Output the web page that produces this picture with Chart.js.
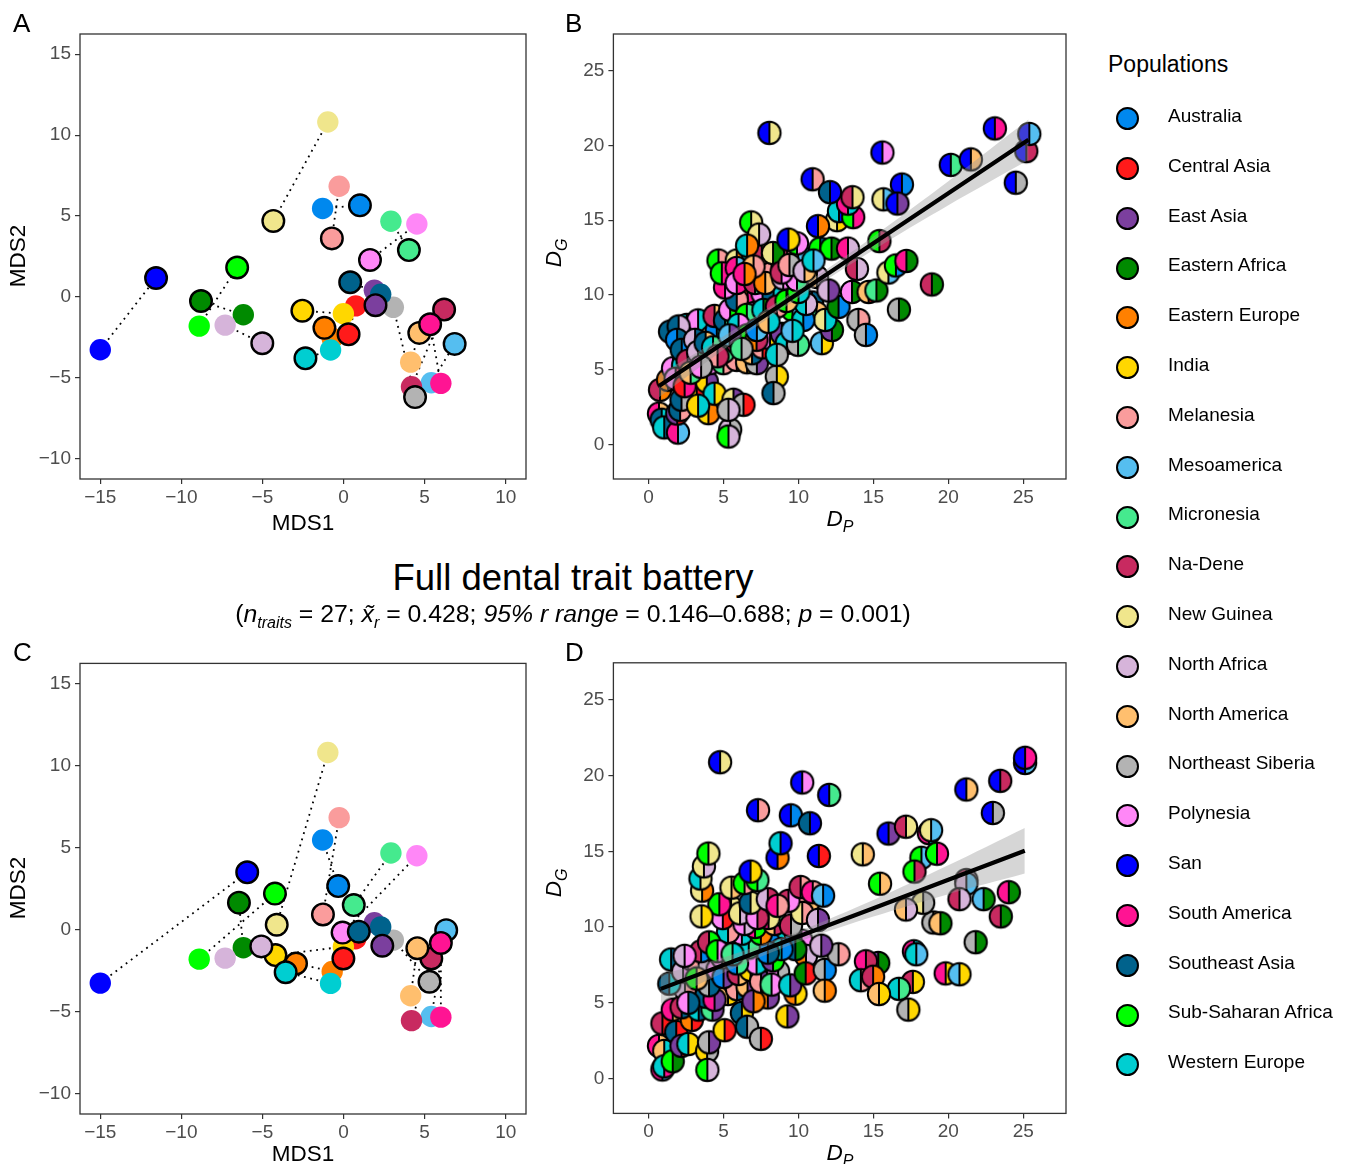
<!DOCTYPE html>
<html>
<head>
<meta charset="utf-8">
<script src="https://cdn.jsdelivr.net/npm/chart.js@4.4.1/dist/chart.umd.min.js"></script>
<style>
  body { margin: 0; background: #fff; }
  #page { position: relative; width: 1349px; height: 1164px; background: #fff; font-family: "Liberation Sans", Arial, sans-serif; color: #000; }
  canvas { position: absolute; }
  .txt { position: absolute; white-space: nowrap; }
  .rot { transform: translate(-50%, -50%) rotate(-90deg); }
  .lg-dot { position: absolute; width: 19px; height: 19px; border: 2px solid #000; border-radius: 50%; }
</style>
</head>
<body>
<div id="page">
  <canvas id="chartA" width="540" height="540" style="left:0;top:0"></canvas>
  <canvas id="chartB" width="540" height="540" style="left:540px;top:0"></canvas>
  <canvas id="chartC" width="540" height="534" style="left:0;top:630px"></canvas>
  <canvas id="chartD" width="540" height="534" style="left:540px;top:630px"></canvas>

  <div class="txt" style="left:13px;top:8px;font-size:26px">A</div>
  <div class="txt" style="left:565px;top:8px;font-size:26px">B</div>
  <div class="txt" style="left:13px;top:637px;font-size:26px">C</div>
  <div class="txt" style="left:565px;top:637px;font-size:26px">D</div>

  <div class="txt" style="left:0;width:1146px;top:560px;text-align:center;font-size:36.5px;line-height:36px">Full dental trait battery</div>
  <div class="txt" style="left:0;width:1146px;top:602px;text-align:center;font-size:24.8px;line-height:24px">(<i>n<sub style="font-size:16px">traits</sub></i> = 27; <i>x&#771;<sub style="font-size:16px">r</sub></i> = 0.428; <i>95% r range</i> = 0.146&ndash;0.688; <i>p</i> = 0.001)</div>

  <div class="txt" style="left:203px;width:200px;top:512px;text-align:center;font-size:22.5px;line-height:22.5px">MDS1</div>
  <div class="txt rot" style="left:18px;top:256px;font-size:22.5px;line-height:22.5px">MDS2</div>
  <div class="txt" style="left:203px;width:200px;top:1143px;text-align:center;font-size:22.5px;line-height:22.5px">MDS1</div>
  <div class="txt rot" style="left:18px;top:888px;font-size:22.5px;line-height:22.5px">MDS2</div>

  <div class="txt" style="left:740px;width:200px;top:508px;text-align:center;font-size:22.5px;line-height:22.5px"><i>D<sub style="font-size:16px">P</sub></i></div>
  <div class="txt rot" style="left:558px;top:253px;font-size:22.5px;line-height:22.5px"><i>D<sub style="font-size:16px">G</sub></i></div>
  <div class="txt" style="left:740px;width:200px;top:1142px;text-align:center;font-size:22.5px;line-height:22.5px"><i>D<sub style="font-size:16px">P</sub></i></div>
  <div class="txt rot" style="left:558px;top:883px;font-size:22.5px;line-height:22.5px"><i>D<sub style="font-size:16px">G</sub></i></div>

  <div class="txt" style="left:1108px;top:53px;font-size:23px;line-height:23px">Populations</div>
  <div id="legend"></div>
</div>

<script>
// populations and colours
const popNames = ['Australia', 'Central Asia', 'East Asia', 'Eastern Africa', 'Eastern Europe', 'India',
  'Melanesia', 'Mesoamerica', 'Micronesia', 'Na-Dene', 'New Guinea', 'North Africa', 'North America',
  'Northeast Siberia', 'Polynesia', 'San', 'South America', 'Southeast Asia', 'Sub-Saharan Africa', 'Western Europe'];
const popColors = ['#0088EE', '#FF1A1A', '#7B3F9E', '#008A00', '#FF8000', '#FFD700',
  '#FA9C9C', '#55BEF0', '#45EA8E', '#C82A60', '#F0E68C', '#D6B4DA', '#FFBF6E',
  '#B3B3B3', '#FF87F7', '#0000FF', '#FF1493', '#00628C', '#00FF00', '#00CED1'];

// genetic MDS (same in A and C)
const genX = [-1.29, 0.75, 1.90, -6.18, -0.70, -0.01, -0.27, 5.41, 2.92, 4.19, -0.97, -7.30, 4.14, 3.07, 4.52, -15.0, 6.00, 2.29, -8.90, -0.80];
const genY = [5.47, -0.55, 0.42, -1.10, -2.55, -1.04, 6.84, -5.30, 4.68, -5.55, 10.81, -1.74, -4.03, -0.64, 4.51, -3.26, -5.34, 0.17, -1.80, -3.28];
// phenotypic MDS, panel A
const phenAX = [1.01, 0.31, 1.97, -8.79, -1.18, -2.54, -0.72, 6.85, 4.03, 6.20, -4.33, -5.01, 4.67, 4.41, 1.63, -11.56, 5.34, 0.41, -6.56, -2.35];
const phenAY = [5.66, -2.31, -0.51, -0.25, -1.91, -0.85, 3.62, -2.90, 2.90, -0.78, 4.70, -2.86, -2.22, -6.19, 2.29, 1.17, -1.69, 0.91, 1.82, -3.79];
// phenotypic MDS, panel C
const phenCX = [-0.33, -0.01, 2.39, -6.45, -2.93, -4.20, -1.27, 6.33, 0.63, 5.41, -4.12, -5.07, 4.55, 5.30, -0.06, -5.94, 6.00, 0.94, -4.23, -3.57];
const phenCY = [2.66, -1.76, -0.98, 1.65, -2.07, -1.55, 0.93, -0.03, 1.50, -1.76, 0.30, -1.02, -1.13, -3.18, -0.18, 3.50, -0.81, -0.12, 2.20, -2.60];

const mdsTicksX = [-15, -10, -5, 0, 5, 10];
const mdsTicksY = [-10, -5, 0, 5, 10, 15];
const distTicks = [0, 5, 10, 15, 20, 25];

// pairwise distances: [D_P, D_G, left population, right population]
const pairsB = [
  [0.76, 3.66, 9, 4], [1.3, 4.33, 4, 9], [1.63, 5.1, 14, 6], [0.69, 2.07, 16, 12], [0.87, 1.66, 17, 19],
  [1.04, 1.15, 19, 17], [1.96, 0.8, 16, 7], [1.91, 2.07, 2, 1], [2.1, 2.32, 17, 6], [2.97, 3.21, 19, 1],
  [3.21, 3.44, 5, 1], [3.99, 2.1, 5, 4], [3.88, 4.21, 5, 2], [2.19, 3.0, 17, 13], [4.1, 5.44, 12, 14],
  [3.0, 5.6, 4, 13], [2.3, 5.3, 19, 14], [1.8, 4.4, 14, 9], [2.4, 3.9, 1, 16], [4.4, 3.4, 19, 5], [3.3, 2.6, 5, 19],
  [4.99, 5.44, 8, 6], [5.88, 5.66, 6, 12], [6.57, 5.5, 12, 5], [7.22, 5.44, 13, 2], [5.44, 1.0, 11, 13],
  [5.33, 0.54, 18, 11], [5.66, 3.0, 10, 2], [6.33, 2.66, 13, 1], [5.33, 2.32, 13, 11], [8.55, 4.55, 13, 5],
  [8.33, 3.44, 17, 13], [1.43, 7.55, 17, 6], [2.54, 8.0, 19, 11], [3.43, 7.8, 11, 17], [3.97, 8.0, 9, 11],
  [3.3, 8.3, 14, 19], [2.0, 7.9, 17, 11], [1.9, 7.0, 0, 17], [4.2, 7.2, 12, 2], [5.0, 6.2, 16, 8],
  [5.9, 6.8, 9, 0], [6.9, 6.1, 12, 17], [7.6, 6.5, 6, 1], [8.1, 7.1, 14, 5], [8.9, 7.4, 2, 19],
  [2.21, 6.33, 17, 0], [3.1, 7.0, 11, 17], [4.55, 7.66, 0, 19], [2.6, 5.6, 9, 14], [3.3, 6.2, 11, 8],
  [3.8, 6.8, 17, 12], [4.3, 6.5, 19, 8], [4.6, 5.9, 6, 9], [2.8, 4.8, 12, 8], [3.5, 5.2, 14, 13],
  [4.4, 8.6, 9, 12], [5.1, 8.3, 17, 8], [6.3, 9.2, 16, 14], [7.1, 8.5, 0, 12], [8.9, 10.3, 19, 8],
  [9.6, 9.0, 18, 7], [10.9, 9.5, 0, 17], [11.2, 8.8, 8, 12], [6.6, 10.2, 4, 16], [7.6, 10.1, 14, 17],
  [5.44, 9.0, 14, 18], [5.88, 9.67, 17, 6], [6.55, 8.67, 18, 8], [7.66, 9.0, 19, 3], [8.55, 9.22, 9, 6],
  [6.0, 8.0, 19, 14], [6.6, 7.3, 18, 12], [7.2, 7.0, 4, 9], [7.22, 7.66, 0, 7], [8.0, 8.2, 12, 19],
  [5.4, 7.3, 7, 2], [6.2, 6.4, 8, 13], [9.22, 6.8, 19, 1], [9.97, 6.67, 13, 8], [11.56, 6.78, 7, 5],
  [12.23, 7.66, 2, 3], [11.78, 8.33, 10, 19], [10.32, 8.33, 19, 0], [8.55, 6.0, 19, 13], [9.6, 7.6, 7, 19],
  [10.5, 9.4, 19, 11], [9.2, 9.6, 18, 12], [10.0, 10.2, 18, 19], [12.67, 9.2, 3, 0], [14.0, 8.33, 13, 6],
  [14.5, 7.33, 13, 0], [16.7, 9.02, 13, 3], [4.66, 12.3, 18, 6], [5.88, 12.3, 10, 4], [6.98, 12.67, 19, 4],
  [8.2, 11.8, 6, 11], [9.4, 12.4, 9, 8], [5.1, 10.5, 16, 14], [6.0, 11.1, 12, 4],
  [7.55, 12.8, 9, 10], [8.3, 12.8, 10, 3], [9.98, 12.8, 6, 7], [9.9, 13.45, 18, 14], [11.45, 13.1, 18, 17],
  [12.2, 13.1, 18, 3], [13.3, 13.1, 16, 11], [12.57, 15.0, 10, 5], [11.3, 14.6, 15, 4], [12.7, 15.6, 19, 15],
  [13.65, 15.2, 18, 16], [4.88, 11.45, 18, 16], [5.88, 11.8, 16, 7], [5.88, 10.8, 14, 16], [7.1, 10.8, 9, 8],
  [7.78, 10.8, 4, 12], [8.98, 11.1, 11, 14], [9.9, 11.0, 14, 8], [11.23, 11.2, 12, 11], [12.0, 10.3, 11, 2],
  [13.57, 10.2, 14, 3], [14.68, 10.2, 12, 1], [15.2, 10.3, 8, 3], [6.84, 14.85, 18, 10], [7.37, 14.04, 10, 11],
  [6.57, 13.3, 19, 4], [9.33, 13.7, 15, 5], [8.87, 11.5, 9, 14], [9.4, 12.0, 6, 13], [10.4, 11.6, 11, 12],
  [11.0, 12.3, 19, 7], [7.0, 11.9, 12, 6], [6.4, 11.4, 16, 4], [15.4, 13.6, 18, 9], [13.9, 11.74, 9, 11],
  [16.0, 11.5, 10, 7], [16.5, 11.97, 18, 0], [17.2, 12.27, 16, 3], [18.9, 10.7, 9, 3], [13.3, 16.1, 16, 19],
  [13.6, 16.53, 9, 10], [15.67, 16.39, 10, 7], [8.06, 20.83, 15, 10], [15.6, 19.52, 15, 14], [10.94, 17.73, 15, 6],
  [12.1, 16.87, 17, 15], [16.9, 17.38, 15, 0], [16.6, 16.11, 15, 2], [20.16, 18.69, 15, 8], [21.5, 19.06, 15, 12],
  [23.1, 21.13, 15, 16], [25.2, 19.61, 15, 9], [25.4, 20.76, 15, 7], [24.5, 17.5, 15, 13]
];
const pairsD = [
  [0.69, 2.16, 16, 12], [1.04, 1.82, 12, 19], [0.92, 0.6, 16, 7], [1.04, 0.8, 19, 16], [1.61, 1.14, 18, 3],
  [0.92, 3.64, 9, 1], [1.84, 3.07, 17, 1], [2.19, 2.16, 2, 1], [2.65, 2.28, 19, 5], [2.88, 3.87, 4, 1],
  [1.61, 4.55, 16, 12], [2.2, 4.7, 9, 17], [3.34, 4.55, 19, 17], [4.26, 4.55, 8, 2], [3.9, 1.8, 5, 13],
  [4.03, 2.39, 13, 2], [3.92, 0.57, 18, 11], [5.07, 3.19, 5, 1], [6.22, 4.33, 17, 5], [6.57, 3.42, 17, 13],
  [7.49, 2.62, 13, 1], [9.26, 4.1, 5, 2], [7.95, 5.35, 4, 2], [5.3, 5.58, 12, 5], [5.65, 6.38, 2, 5],
  [2.1, 6.6, 0, 11], [3.0, 6.1, 12, 8], [3.8, 5.4, 17, 4], [4.4, 5.2, 16, 2], [5.9, 5.9, 6, 17],
  [6.6, 6.1, 12, 2], [7.0, 5.1, 2, 4], [9.8, 5.6, 4, 5],
  [4.03, 6.15, 13, 17], [2.42, 5.92, 11, 6], [2.65, 5.0, 14, 17], [1.38, 6.26, 17, 19], [1.5, 7.86, 19, 17],
  [2.3, 7.06, 11, 14], [2.88, 7.86, 14, 11], [3.34, 7.51, 6, 11], [3.2, 6.6, 18, 12], [4.6, 7.2, 14, 13],
  [5.0, 6.7, 0, 2], [6.0, 6.9, 9, 12], [6.8, 7.17, 5, 13], [7.5, 6.4, 6, 2], [8.64, 7.06, 14, 13],
  [7.2, 7.6, 14, 19], [8.3, 7.8, 2, 18], [9.1, 9.3, 19, 0], [10.2, 9.1, 17, 14], [10.5, 8.1, 4, 11],
  [8.0, 9.0, 18, 0], [6.6, 9.1, 8, 14], [5.7, 9.0, 19, 9], [4.9, 8.0, 14, 12], [3.5, 8.4, 9, 0],
  [2.4, 8.1, 11, 14], [5.9, 7.6, 0, 8],
  [8.2, 6.2, 8, 14], [9.45, 6.15, 19, 2], [10.48, 6.94, 3, 1], [11.75, 7.17, 13, 0], [11.75, 5.8, 12, 4],
  [12.67, 8.2, 13, 6], [11.52, 8.77, 11, 2], [9.79, 8.54, 17, 3], [8.87, 8.54, 19, 0], [7.95, 8.31, 0, 17],
  [6.68, 8.65, 19, 8], [6.22, 9.56, 14, 19], [5.3, 9.68, 19, 6], [4.03, 8.99, 9, 18], [4.6, 8.4, 18, 14],
  [5.6, 8.2, 8, 19], [7.49, 9.56, 18, 4], [7.1, 10.0, 16, 18], [8.4, 10.2, 12, 9], [9.1, 10.7, 8, 11],
  [5.5, 11.3, 12, 10], [6.4, 10.2, 14, 11], [8.0, 10.6, 16, 10], [9.5, 10.1, 9, 13], [10.7, 11.7, 6, 12],
  [10.25, 10.93, 10, 6], [11.3, 10.47, 11, 2], [4.95, 10.59, 14, 1], [6.1, 10.9, 10, 11], [7.26, 10.6, 14, 9],
  [6.8, 11.6, 17, 10], [7.95, 11.84, 11, 9], [9.33, 11.73, 9, 14], [8.6, 11.4, 16, 6], [10.14, 12.64, 9, 6],
  [10.95, 12.3, 16, 6], [11.64, 12.07, 7, 0], [4.72, 11.5, 18, 16], [3.53, 10.7, 10, 5], [3.57, 12.4, 10, 4],
  [3.46, 13.2, 19, 10], [3.69, 14.0, 10, 11], [3.99, 14.85, 18, 10], [5.53, 12.6, 10, 12], [6.4, 12.9, 18, 6],
  [7.26, 13.09, 18, 8], [6.8, 13.66, 15, 5], [8.6, 14.57, 15, 4], [8.8, 15.53, 19, 15], [11.36, 14.69, 15, 1],
  [7.3, 17.71, 15, 6], [9.49, 17.37, 15, 0], [10.76, 16.85, 17, 15], [10.25, 19.54, 15, 14], [12.05, 18.72, 15, 8],
  [4.77, 20.88, 15, 10], [14.29, 14.8, 10, 12], [15.44, 12.86, 18, 12], [16.01, 16.17, 15, 2], [17.17, 16.62, 9, 10],
  [18.7, 16.2, 16, 19], [18.85, 16.39, 10, 7], [18.2, 14.57, 18, 7], [19.24, 14.84, 18, 16], [17.74, 13.66, 18, 9],
  [21.2, 19.08, 15, 12], [23.46, 19.65, 15, 9], [22.97, 17.53, 15, 13], [25.12, 20.83, 15, 7], [25.12, 21.17, 15, 16],
  [21.2, 13.1, 9, 11], [21.2, 12.86, 11, 7], [20.74, 11.84, 9, 11], [22.35, 11.84, 7, 3], [24.03, 12.3, 16, 3],
  [23.5, 10.7, 9, 3], [21.82, 9.0, 13, 3], [19.0, 10.3, 13, 12], [19.47, 10.25, 12, 3], [18.32, 11.6, 10, 13],
  [17.17, 11.16, 12, 11], [17.7, 8.4, 16, 19], [17.86, 8.2, 19, 7], [17.63, 6.38, 9, 5], [17.33, 4.55, 13, 5],
  [16.7, 5.92, 19, 8], [19.82, 6.94, 16, 5], [20.74, 6.88, 7, 5], [15.32, 7.63, 2, 3], [14.5, 7.74, 16, 9],
  [14.16, 6.49, 19, 6], [14.98, 6.72, 9, 4], [15.37, 5.58, 12, 5]
];

// fitted line and confidence band
const bandX_B = [0.69, 5, 10, 15, 20, 25.35];
const fitY_B = [3.91, 6.79, 10.12, 13.46, 16.8, 20.37];
const upperB = [4.66, 7.24, 10.45, 13.91, 17.6, 21.72];
const lowerB = [3.16, 6.34, 9.79, 13.01, 16.0, 19.02];
const bandX_D = [0.81, 5, 10, 15, 20, 25.1];
const fitY_D = [5.92, 7.49, 9.37, 11.24, 13.12, 15.03];
const upperD = [6.87, 7.99, 9.72, 11.79, 14.07, 16.53];
const lowerD = [4.97, 6.99, 9.02, 10.69, 12.17, 13.53];

const FONT = '"Liberation Sans", Arial, sans-serif';

// legend
const legend = document.getElementById('legend');
popNames.forEach(function (name, i) {
  const cy = 118.6 + 49.8 * i;
  const dot = document.createElement('div');
  dot.className = 'lg-dot';
  dot.style.left = (1127.8 - 11.5) + 'px';
  dot.style.top = (cy - 11.5) + 'px';
  dot.style.background = popColors[i];
  legend.appendChild(dot);
  const t = document.createElement('div');
  t.className = 'txt';
  t.style.left = '1168px';
  t.style.top = (cy + 3.5 - 16.1) + 'px';
  t.style.fontSize = '19px';
  t.style.lineHeight = '19px';
  t.textContent = name;
  legend.appendChild(t);
});

// half/half point marker
const dotCache = {};
function halfDot(a, b) {
  const key = a + '_' + b;
  if (dotCache[key]) return dotCache[key];
  const c = document.createElement('canvas');
  c.width = 28; c.height = 28;
  const g = c.getContext('2d');
  const r = 11.2;
  g.fillStyle = popColors[a];
  g.beginPath(); g.moveTo(14, 14); g.arc(14, 14, r, Math.PI / 2, Math.PI * 1.5); g.closePath(); g.fill();
  g.fillStyle = popColors[b];
  g.beginPath(); g.moveTo(14, 14); g.arc(14, 14, r, -Math.PI / 2, Math.PI / 2); g.closePath(); g.fill();
  g.strokeStyle = '#000'; g.lineWidth = 2;
  g.beginPath(); g.moveTo(14, 14 - r); g.lineTo(14, 14 + r); g.stroke();
  g.beginPath(); g.arc(14, 14, r, 0, Math.PI * 2); g.stroke();
  dotCache[key] = c;
  return c;
}

const panelBox = {
  id: 'panelBox',
  afterDraw(chart) {
    const a = chart.chartArea, c = chart.ctx;
    c.save();
    c.strokeStyle = '#333';
    c.lineWidth = 1.3;
    c.strokeRect(a.left, a.top, a.right - a.left, a.bottom - a.top);
    c.restore();
  }
};

function minus(v) { return v < 0 ? '\u2212' + Math.abs(v) : String(v); }

function axis(min, max, ticks, fitSize, isX) {
  return {
    type: 'linear', min: min, max: max,
    afterBuildTicks: function (s) { s.ticks = ticks.map(function (v) { return { value: v }; }); },
    afterFit: function (s) { if (isX) s.height = fitSize; else s.width = fitSize; },
    grid: { drawOnChartArea: false, drawTicks: true, tickLength: 5, color: '#333', lineWidth: 1.2 },
    border: { display: false },
    ticks: { color: '#4d4d4d', font: { family: FONT, size: 19 }, padding: isX ? 2 : 4, callback: minus, maxRotation: 0, autoSkip: false }
  };
}

function mdsChart(id, px, py, bottomH, topPad) {
  const datasets = [];
  datasets.push({
    type: 'scatter', order: 0,
    data: px.map(function (x, i) { return { x: x, y: py[i] }; }),
    backgroundColor: popColors, borderColor: '#000', borderWidth: 2.4, pointRadius: 10.8, pointHoverRadius: 10.8
  });
  datasets.push({
    type: 'scatter', order: 1,
    data: genX.map(function (x, i) { return { x: x, y: genY[i] }; }),
    backgroundColor: popColors, borderWidth: 0, pointRadius: 10.7, pointHoverRadius: 10.7
  });
  genX.forEach(function (x, i) {
    datasets.push({
      type: 'line', order: 2,
      data: [{ x: x, y: genY[i] }, { x: px[i], y: py[i] }],
      borderColor: '#000', borderWidth: 1.8, borderDash: [1.8, 4.6], pointRadius: 0, fill: false
    });
  });
  return new Chart(document.getElementById(id), {
    type: 'scatter',
    data: { datasets: datasets },
    options: {
      responsive: false, animation: false, devicePixelRatio: 1,
      layout: { padding: { top: topPad, right: 14, left: 0, bottom: 0 } },
      plugins: { legend: { display: false }, tooltip: { enabled: false } },
      scales: {
        x: axis(-16.25, 11.25, mdsTicksX, bottomH, true),
        y: axis(-11.25, 16.25, mdsTicksY, 80, false)
      }
    },
    plugins: [panelBox]
  });
}

function distChart(id, pairs, bx, fit, up, lo, bottomH, topPad) {
  return new Chart(document.getElementById(id), {
    type: 'scatter',
    data: {
      datasets: [
        { type: 'line', order: 0, data: bx.map(function (x, i) { return { x: x, y: fit[i] }; }),
          borderColor: '#000', borderWidth: 4.2, pointRadius: 0, fill: false },
        { type: 'line', order: 1, data: bx.map(function (x, i) { return { x: x, y: up[i] }; }),
          borderWidth: 0, borderColor: 'rgba(0,0,0,0)', pointRadius: 0, fill: '+1', backgroundColor: 'rgba(153,153,153,0.4)', tension: 0.3 },
        { type: 'line', order: 2, data: bx.map(function (x, i) { return { x: x, y: lo[i] }; }),
          borderWidth: 0, borderColor: 'rgba(0,0,0,0)', pointRadius: 0, fill: false, tension: 0.3 },
        { type: 'scatter', order: 3,
          data: pairs.map(function (p) { return { x: p[0], y: p[1] }; }),
          pointStyle: pairs.map(function (p) { return halfDot(p[2], p[3]); }),
          pointRadius: 12, pointHoverRadius: 12 }
      ]
    },
    options: {
      responsive: false, animation: false, devicePixelRatio: 1,
      layout: { padding: { top: topPad, right: 14, left: 0, bottom: 0 } },
      plugins: { legend: { display: false }, tooltip: { enabled: false } },
      scales: {
        x: axis(-2.35, 27.85, distTicks, bottomH, true),
        y: axis(-2.3, 27.44, distTicks, 73.4, false)
      }
    },
    plugins: [panelBox]
  });
}

mdsChart('chartA', phenAX, phenAY, 61, 34);
mdsChart('chartC', phenCX, phenCY, 50, 33.4);
distChart('chartB', pairsB, bandX_B, fitY_B, upperB, lowerB, 61, 34);
distChart('chartD', pairsD, bandX_D, fitY_D, upperD, lowerD, 50.6, 32.8);
</script>
</body>
</html>
